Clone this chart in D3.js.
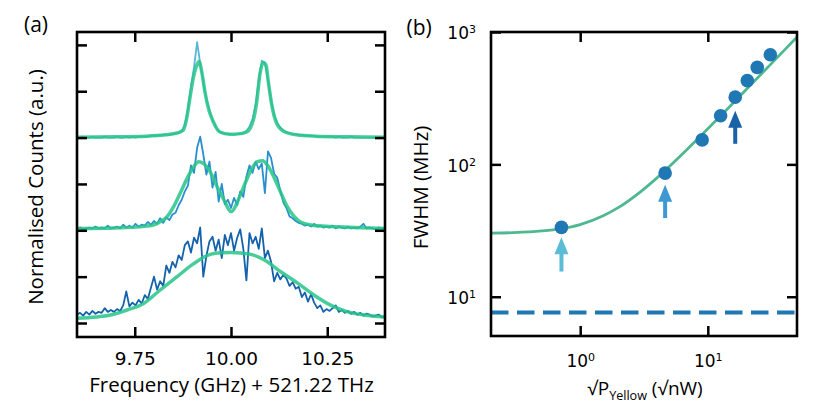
<!DOCTYPE html>
<html><head><meta charset="utf-8">
<script src="https://cdn.jsdelivr.net/npm/d3@7"></script>
<style>
body{margin:0;background:#fff;}
svg{display:block;}
</style></head><body>
<svg id="chart" width="830" height="419"></svg>
<script>
// ---------------- Panel (a) data ----------------
const freqGHz = [9.600,9.608,9.616,9.624,9.632,9.640,9.648,9.656,9.664,9.672,
9.680,9.688,9.696,9.704,9.712,9.720,9.728,9.736,9.744,9.752,
9.760,9.768,9.776,9.784,9.792,9.800,9.808,9.816,9.824,9.832,
9.840,9.848,9.856,9.864,9.872,9.880,9.888,9.896,9.904,9.912,
9.920,9.928,9.936,9.944,9.952,9.960,9.968,9.976,9.984,9.992,
10.000,10.008,10.016,10.024,10.032,10.040,10.048,10.056,10.064,10.072,
10.080,10.088,10.096,10.104,10.112,10.120,10.128,10.136,10.144,10.152,
10.160,10.168,10.176,10.184,10.192,10.200,10.208,10.216,10.224,10.232,
10.240,10.248,10.256,10.264,10.272,10.280,10.288,10.296,10.304,10.312,
10.320,10.328,10.336,10.344,10.352,10.360,10.368,10.376,10.384,10.392,10.400];

const topCounts = [2.00,2.00,2.01,2.00,2.00,2.01,2.00,2.00,2.00,2.01,
2.00,2.00,2.00,2.01,2.00,2.00,2.01,2.00,2.01,2.00,
2.01,2.01,2.01,2.01,2.02,2.02,2.02,2.03,2.03,2.03,
2.03,2.04,2.04,2.05,2.07,2.14,2.30,2.55,2.76,3.03,
2.80,2.60,2.42,2.30,2.19,2.12,2.07,2.05,2.04,2.04,
2.035,2.03,2.04,2.04,2.05,2.07,2.12,2.20,2.36,2.62,
2.83,2.80,2.62,2.40,2.25,2.16,2.11,2.08,2.06,2.05,
2.04,2.035,2.03,2.03,2.02,2.02,2.02,2.02,2.01,2.01,
2.01,2.01,2.01,2.01,2.00,2.01,2.00,2.00,2.00,2.01,
2.00,2.00,2.00,2.00,2.00,2.00,2.00,2.00,2.00,2.00,2.00];

const midCounts = [1.02,1.03,1.01,1.02,1.03,1.02,1.04,1.02,1.03,1.02,
1.05,1.02,1.03,1.04,1.02,1.06,1.03,1.05,1.03,1.07,
1.04,1.06,1.05,1.09,1.06,1.10,1.07,1.13,1.08,1.14,
1.11,1.17,1.19,1.27,1.33,1.42,1.48,1.70,1.62,1.89,
2.01,1.82,1.60,1.74,1.46,1.63,1.31,1.50,1.28,1.33,
1.24,1.35,1.27,1.42,1.36,1.58,1.70,1.62,1.74,1.66,
1.72,1.40,1.85,1.78,1.61,1.57,1.43,1.30,1.24,1.15,
1.13,1.10,1.08,1.07,1.05,1.06,1.04,1.07,1.04,1.05,
1.03,1.04,1.03,1.05,1.02,1.04,1.03,1.02,1.04,1.02,
1.03,1.02,1.04,1.07,1.02,1.03,1.02,1.01,1.03,1.02,1.02];

const lowCounts = [0.09,0.11,0.08,0.12,0.09,0.13,0.10,0.12,0.11,0.16,
0.12,0.14,0.12,0.15,0.13,0.19,0.34,0.18,0.22,0.19,
0.25,0.21,0.30,0.26,0.38,0.50,0.36,0.45,0.40,0.62,
0.54,0.66,0.60,0.73,0.68,0.84,0.88,0.76,0.92,0.86,
1.03,0.50,0.72,0.88,0.93,0.78,0.90,0.70,0.95,0.84,
0.97,0.78,0.92,1.01,0.80,0.46,0.97,0.86,0.93,0.80,
1.02,0.70,0.78,0.66,0.45,0.54,0.47,0.52,0.48,0.40,
0.44,0.37,0.39,0.28,0.33,0.23,0.31,0.22,0.16,0.19,
0.12,0.15,0.13,0.16,0.19,0.12,0.14,0.11,0.13,0.10,
0.12,0.09,0.11,0.08,0.10,0.09,0.07,0.08,0.09,0.06,0.07];

// fitted curves [frequency GHz, counts]
const topFit = [[9.60,2.005],[9.70,2.008],[9.78,2.015],[9.83,2.03],[9.86,2.05],[9.876,2.08],[9.885,2.21],[9.893,2.42],[9.902,2.64],[9.911,2.78],[9.917,2.82],[9.924,2.71],[9.932,2.50],[9.941,2.32],[9.954,2.17],[9.971,2.06],[9.997,2.035],[10.02,2.04],[10.041,2.06],[10.058,2.19],[10.067,2.39],[10.075,2.68],[10.084,2.81],[10.091,2.78],[10.097,2.60],[10.106,2.35],[10.119,2.15],[10.14,2.06],[10.17,2.03],[10.22,2.015],[10.30,2.008],[10.40,2.005]];
const midFit = [[9.60,1.02],[9.70,1.025],[9.78,1.045],[9.80,1.06],[9.816,1.093],[9.834,1.147],[9.851,1.255],[9.868,1.40],[9.886,1.56],[9.903,1.686],[9.916,1.74],[9.929,1.72],[9.946,1.63],[9.964,1.47],[9.985,1.30],[9.994,1.225],[10.0,1.20],[10.007,1.225],[10.017,1.31],[10.035,1.49],[10.052,1.65],[10.069,1.74],[10.082,1.75],[10.095,1.70],[10.113,1.56],[10.13,1.40],[10.147,1.25],[10.165,1.145],[10.182,1.086],[10.208,1.057],[10.26,1.04],[10.32,1.03],[10.40,1.02]];
const lowFit = [[9.60,0.05],[9.65,0.065],[9.687,0.086],[9.73,0.14],[9.773,0.21],[9.816,0.356],[9.86,0.50],[9.903,0.64],[9.946,0.74],[9.975,0.757],[10.0,0.76],[10.025,0.755],[10.052,0.74],[10.087,0.68],[10.13,0.55],[10.173,0.43],[10.216,0.30],[10.26,0.19],[10.303,0.12],[10.346,0.086],[10.40,0.065]];

const xTicksA = [9.75, 10.00, 10.25];
const yTicksA = [0, 0.5, 1.0, 1.5, 2.0, 2.5, 3.0];

// ---------------- Panel (b) data ----------------
const sqrtPower = [0.713, 4.63, 9.03, 12.6, 16.4, 20.4, 24.4, 30.9];
const fwhmMHz   = [33.4, 85.9, 153, 233, 322, 429, 540, 673];
const fitSqrtP  = [0.2,0.3,0.5,0.7,1,1.5,2,3,4,5,7,10,15,20,30,40,50];
const fitFWHM   = [30.2,30.5,31.4,32.6,35.1,40.7,47.3,62.6,79.1,96.3,131.6,185.5,276.2,367.3,549.9,732.7,915.6];
const linewidthLimit = 7.6;
const arrowX    = [0.713, 4.63, 16.4];
const arrowTip  = [28.2, 70.1, 254];
const arrowTail = [15.5, 39.3, 143];
const arrowColors = ["#5bbcd6", "#3d98d3", "#1a62a8"];
const xTicksB = [1, 10];
const yTicksB = [10, 100, 1000];

// ---------------- Drawing ----------------
const svg = d3.select("#chart");
const LABEL_FONT = "'Open Sans', 'Noto Sans', sans-serif";
const TICK_FONT = "'DejaVu Sans', Verdana, sans-serif";
const TICK_LEN = 10;
const defs = svg.append("defs");

function styleAxis(g, fontSize){
  g.select(".domain").remove();
  g.selectAll(".tick line").attr("stroke","#000").attr("stroke-width",2.5);
  g.selectAll(".tick text").attr("fill","#000").style("font-family",TICK_FONT).style("font-size",fontSize+"px");
}

// Panel a
const A = {l:77, r:385, t:32, b:337};
const xa = d3.scaleLinear().domain([9.6,10.4]).range([A.l,A.r]);
const ya = d3.scaleLinear().domain([-0.151,3.139]).range([A.b,A.t]);
defs.append("clipPath").attr("id","clipA").append("rect")
  .attr("x",A.l).attr("y",A.t).attr("width",A.r-A.l).attr("height",A.b-A.t);
const gA = svg.append("g").attr("clip-path","url(#clipA)");
const dataLine = d3.line().x(d=>xa(d[0])).y(d=>ya(d[1]));
[[topCounts,"#5ab6d8"],[midCounts,"#2a8fcf"],[lowCounts,"#1462ac"]].forEach(([vals,c])=>{
  gA.append("path").datum(freqGHz.map((f,i)=>[f,vals[i]]))
    .attr("d",dataLine).attr("fill","none").attr("stroke",c)
    .attr("stroke-width",1.8).attr("stroke-linejoin","round");
});
const fitLineA = d3.line().x(d=>xa(d[0])).y(d=>ya(d[1])).curve(d3.curveMonotoneX);
[topFit, midFit, lowFit].forEach(fd=>{
  gA.append("path").datum(fd).attr("d",fitLineA).attr("fill","none")
    .attr("stroke","#28c488").attr("stroke-opacity",0.85).attr("stroke-width",3.5);
});

svg.append("g").attr("transform",`translate(0,${A.b})`)
  .call(d3.axisBottom(xa).tickValues(xTicksA).tickFormat(d3.format(".2f")).tickSize(-TICK_LEN).tickPadding(14.6))
  .call(g=>styleAxis(g,18.5));
svg.append("g").attr("transform",`translate(0,${A.t})`)
  .call(d3.axisTop(xa).tickValues(xTicksA).tickFormat("").tickSize(-TICK_LEN))
  .call(g=>styleAxis(g,18.5));
svg.append("g").attr("transform",`translate(${A.l},0)`)
  .call(d3.axisLeft(ya).tickValues(yTicksA).tickFormat("").tickSize(-TICK_LEN))
  .call(g=>styleAxis(g,18.5));
svg.append("g").attr("transform",`translate(${A.r},0)`)
  .call(d3.axisRight(ya).tickValues(yTicksA).tickFormat("").tickSize(-TICK_LEN))
  .call(g=>styleAxis(g,18.5));
svg.append("rect").attr("x",A.l).attr("y",A.t).attr("width",A.r-A.l).attr("height",A.b-A.t)
  .attr("fill","none").attr("stroke","#000").attr("stroke-width",2.6);

svg.append("text").attr("x",231.5).attr("y",391.5).attr("text-anchor","middle")
  .style("font-family",LABEL_FONT).style("font-size","20.5px")
  .text("Frequency (GHz) + 521.22 THz");
svg.append("text").attr("transform","translate(43,187) rotate(-90)").attr("text-anchor","middle")
  .style("font-family",LABEL_FONT).style("font-size","20.5px")
  .text("Normalised Counts (a.u.)");
svg.append("text").attr("x",24).attr("y",32).style("font-family",LABEL_FONT).style("font-size","21px").text("(a)");

// Panel b
const B = {l:491, r:797, t:32, b:336};
const xb = d3.scaleLog().domain([0.2,50]).range([B.l,B.r]);
const yb = d3.scaleLog().domain([5.05,1000]).range([B.b,B.t]);
defs.append("clipPath").attr("id","clipB").append("rect")
  .attr("x",B.l).attr("y",B.t).attr("width",B.r-B.l).attr("height",B.b-B.t);
const gB = svg.append("g").attr("clip-path","url(#clipB)");

gB.append("line").attr("x1",xb(0.2)).attr("x2",xb(50))
  .attr("y1",yb(linewidthLimit)).attr("y2",yb(linewidthLimit))
  .attr("stroke","#1f77b4").attr("stroke-width",4.2).attr("stroke-dasharray","17.5,8.5");

gB.append("path").datum(fitSqrtP.map((x,i)=>[x,fitFWHM[i]]))
  .attr("d",d3.line().x(d=>xb(d[0])).y(d=>yb(d[1])).curve(d3.curveMonotoneX))
  .attr("fill","none").attr("stroke","#4fb891").attr("stroke-width",2.8);

gB.selectAll("circle.pt").data(sqrtPower.map((x,i)=>[x,fwhmMHz[i]])).join("circle")
  .attr("class","pt").attr("cx",d=>xb(d[0])).attr("cy",d=>yb(d[1])).attr("r",6.8).attr("fill","#1f77b4");

arrowX.forEach((x,i)=>{
  const cx = xb(x), ty = yb(arrowTip[i]), by = yb(arrowTail[i]);
  const headLen = 17, headW = 7;
  gB.append("line").attr("x1",cx).attr("x2",cx).attr("y1",ty+headLen-1).attr("y2",by)
    .attr("stroke",arrowColors[i]).attr("stroke-width",4);
  gB.append("path").attr("d",`M${cx},${ty} L${cx+headW},${ty+headLen} L${cx-headW},${ty+headLen} Z`)
    .attr("fill",arrowColors[i]);
});

function supLabels(g){
  g.selectAll(".tick text").each(function(d){
    const t = d3.select(this);
    const e = Math.round(Math.log10(d));
    t.text(null);
    t.append("tspan").text("10");
    t.append("tspan").attr("dy","-6").style("font-size","11px").text(e);
  });
}
svg.append("g").attr("transform",`translate(0,${B.b})`)
  .call(d3.axisBottom(xb).tickValues(xTicksB).tickSize(-TICK_LEN).tickPadding(18.6))
  .call(g=>styleAxis(g,17)).call(supLabels);
svg.append("g").attr("transform",`translate(0,${B.t})`)
  .call(d3.axisTop(xb).tickValues(xTicksB).tickFormat("").tickSize(-TICK_LEN))
  .call(g=>styleAxis(g,17));
svg.append("g").attr("transform",`translate(${B.l},0)`)
  .call(d3.axisLeft(yb).tickValues(yTicksB).tickSize(-TICK_LEN).tickPadding(15))
  .call(g=>styleAxis(g,17)).call(supLabels)
  .call(g=>g.selectAll(".tick text").attr("dy","0.4em"));
svg.append("g").attr("transform",`translate(${B.r},0)`)
  .call(d3.axisRight(yb).tickValues(yTicksB).tickFormat("").tickSize(-TICK_LEN))
  .call(g=>styleAxis(g,17));
svg.append("rect").attr("x",B.l).attr("y",B.t).attr("width",B.r-B.l).attr("height",B.b-B.t)
  .attr("fill","none").attr("stroke","#000").attr("stroke-width",2.6);

svg.append("text").attr("transform","translate(427.5,187.5) rotate(-90)").attr("text-anchor","middle")
  .style("font-family",LABEL_FONT).style("font-size","20.5px").text("FWHM (MHz)");
const xl = svg.append("text").attr("x",645).attr("y",395).attr("text-anchor","middle")
  .style("font-family",LABEL_FONT).style("font-size","19px");
xl.append("tspan").text("√P");
xl.append("tspan").attr("dy","5").style("font-size","12.6px").text("Yellow");
xl.append("tspan").attr("dy","-5").text(" (√nW)");
svg.append("text").attr("x",406.5).attr("y",35).style("font-family",LABEL_FONT).style("font-size","21px").text("(b)");
</script>
</body></html>
